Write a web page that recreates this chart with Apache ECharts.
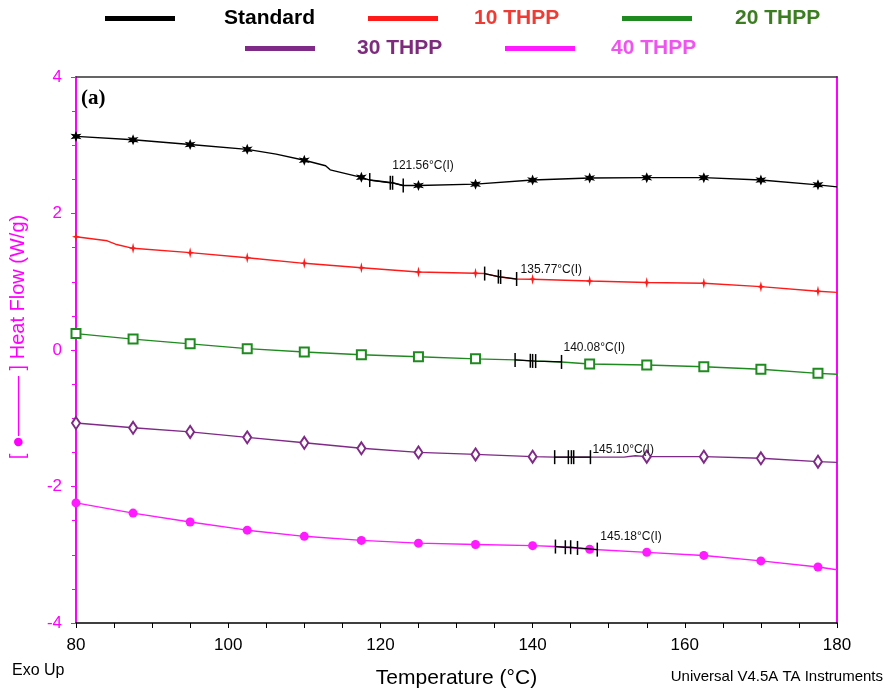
<!DOCTYPE html>
<html>
<head>
<meta charset="utf-8">
<title>Heat Flow</title>
<script src="https://cdn.jsdelivr.net/npm/echarts@6/dist/echarts.min.js"></script>
<style>
  html, body { margin: 0; padding: 0; background: #fff; }
  #heatFlow { width: 893px; height: 694px; }
</style>
</head>
<body>
<div id="heatFlow"></div>
<script>
// curves: [temperature °C, heat flow W/g]
var markerTemps = [80, 87.5, 95, 102.5, 110, 117.5, 125, 132.5, 140, 147.5, 155, 162.5, 170, 177.5];

var standard = [[80, 3.13], [87.5, 3.08], [95, 3.01], [102.5, 2.94], [106.3, 2.87], [110, 2.78], [112.8, 2.70], [113.4, 2.64],
  [117.5, 2.53], [118.6, 2.49], [121.6, 2.45], [123.0, 2.41], [125, 2.41], [132.5, 2.43], [140, 2.49], [147.5, 2.52],
  [155, 2.525], [162.5, 2.525], [170, 2.49], [177.5, 2.42], [180, 2.39]];
var thpp10 = [[80, 1.66], [84.1, 1.60], [85.2, 1.55], [87.5, 1.49], [95, 1.426], [102.5, 1.352], [110, 1.27], [117.5, 1.206],
  [125, 1.143], [132.5, 1.124], [133.7, 1.12], [135.7, 1.07], [137.9, 1.04], [140, 1.036], [147.5, 1.01], [155, 0.99],
  [162.5, 0.977], [170, 0.928], [177.5, 0.86], [180, 0.845]];
var thpp20 = [[80, 0.24], [87.5, 0.16], [95, 0.09], [102.5, 0.02], [110, -0.03], [117.5, -0.07], [125, -0.098], [132.5, -0.13],
  [137.7, -0.145], [140.1, -0.16], [143.8, -0.175], [147.5, -0.205], [155, -0.22], [162.5, -0.245], [170, -0.283],
  [177.5, -0.342], [180, -0.356]];
var thpp30 = [[80, -1.07], [87.5, -1.14], [95, -1.20], [102.5, -1.28], [110, -1.36], [117.5, -1.44], [125, -1.50], [132.5, -1.53],
  [140, -1.563], [142.9, -1.57], [147.6, -1.57], [152, -1.57], [153.5, -1.55], [155, -1.563], [162.5, -1.563], [170, -1.587],
  [177.5, -1.636], [180, -1.646]];
var thpp40 = [[80, -2.24], [87.5, -2.39], [95, -2.52], [102.5, -2.64], [110, -2.73], [117.5, -2.79], [125, -2.83], [132.5, -2.85],
  [140, -2.867], [143, -2.88], [147.5, -2.92], [155, -2.965], [162.5, -3.01], [170, -3.09], [177.5, -3.18], [180, -3.22]];

// glass transition analysis ticks + labels
var tgStandard = [[118.6, 2.49], [121.3, 2.45], [121.6, 2.45], [123.0, 2.41]];
var tg10 = [[133.7, 1.12], [135.5, 1.075], [135.8, 1.07], [137.9, 1.04]];
var tg20 = [[137.7, -0.145], [139.7, -0.158], [140.0, -0.16], [140.4, -0.162], [143.8, -0.175]];
var tg30 = [[142.9, -1.57], [144.7, -1.57], [145.1, -1.57], [145.4, -1.57], [147.6, -1.57]];
var tg40 = [[143.0, -2.88], [144.3, -2.89], [145.0, -2.89], [145.9, -2.9], [148.5, -2.925]];
var tgLabels = ['121.56°C(I)', '135.77°C(I)', '140.08°C(I)', '145.10°C(I)', '145.18°C(I)'];

var seriesNames = ['Standard', '10 THPP', '20 THPP', '30 THPP', '40 THPP'];
var colors = ['#000000', '#ff1a1a', '#1f8a1f', '#7e2a86', '#ff1aff'];
var legendText = ['#000000', '#ee3b33', '#3c7d22', '#7d2b7d', '#ee55ee'];

var starPath = 'path://M0,-10L2.2,-3.8L8.66,-5L4.4,0L8.66,5L2.2,3.8L0,10L-2.2,3.8L-8.66,5L-4.4,0L-8.66,-5L-2.2,-3.8Z';
var plusStar = 'path://M0,-10L1.9,-1.9L7,0L1.9,1.9L0,10L-1.9,1.9L-7,0L-1.9,-1.9Z';
var symbols = [starPath, plusStar, 'emptyRect', 'emptyDiamond', 'circle'];
var symbolSizes = [11, [8, 11], 9, [8, 12], 9];

// where each label sits relative to its last tick (px)
var labelOffsets = [[-11, -20], [4, -9], [2, -14], [2, -7], [3, -13]];

var legendPos = [
  {left: 105, top: 8, pad: 44}, {left: 368, top: 8, pad: 31}, {left: 622, top: 8, pad: 38},
  {left: 245, top: 38, pad: 37}, {left: 505, top: 38, pad: 31}
];

function withMarkers(points) {
  return points.map(function (p) {
    if (markerTemps.indexOf(p[0]) >= 0) return {value: p};
    return {value: p, symbol: 'none'};
  });
}

var curves = [standard, thpp10, thpp20, thpp30, thpp40];
var tgs = [tgStandard, tg10, tg20, tg30, tg40];

var series = [];
curves.forEach(function (c, i) {
  series.push({
    name: seriesNames[i],
    type: 'line',
    data: withMarkers(c),
    symbol: symbols[i],
    symbolSize: symbolSizes[i],
    showAllSymbol: true,
    lineStyle: {color: colors[i], width: 1.4},
    itemStyle: {color: colors[i], borderWidth: 1.5},
    z: 2
  });
});
tgs.forEach(function (t, i) {
  var data = t.map(function (p, k) {
    var item = {value: p};
    if (k === t.length - 1) {
      item.label = {
        show: true,
        formatter: tgLabels[i],
        position: [labelOffsets[i][0] + 0.75, labelOffsets[i][1] + 7],
        align: 'left',
        verticalAlign: 'middle',
        color: '#111',
        fontSize: 12,
        fontFamily: 'Liberation Sans, Arial, sans-serif'
      };
    }
    return item;
  });
  series.push({
    name: 'tg' + i,
    type: 'line',
    data: data,
    symbol: 'rect',
    symbolSize: [1.5, 14],
    lineStyle: {color: '#000', width: 1.3},
    itemStyle: {color: '#000'},
    z: 4
  });
});

var legends = seriesNames.map(function (n, i) {
  return {
    data: [n],
    left: legendPos[i].left,
    top: legendPos[i].top,
    padding: 0,
    icon: 'rect',
    itemWidth: 70,
    itemHeight: 5,
    selectedMode: false,
    textStyle: {
      color: legendText[i],
      fontSize: 21,
      fontWeight: 'bold',
      fontFamily: 'Liberation Sans, Arial, sans-serif',
      padding: [0, 0, 0, legendPos[i].pad]
    }
  };
});

var option = {
  animation: false,
  backgroundColor: '#fff',
  textStyle: {fontFamily: 'Liberation Sans, Arial, sans-serif'},
  legend: legends,
  grid: {left: 72, right: 56, top: 77, bottom: 71},
  xAxis: [{
    type: 'value',
    position: 'bottom',
    min: 80,
    max: 180,
    interval: 20,
    axisLine: {onZero: false, lineStyle: {color: '#000', width: 1.5}},
    axisTick: {length: 5, lineStyle: {color: '#000'}},
    minorTick: {show: true, splitNumber: 4, length: 5, lineStyle: {color: '#000'}},
    axisLabel: {color: '#000', fontSize: 17, margin: 14},
    splitLine: {show: false},
    name: 'Temperature (°C)',
    nameLocation: 'middle',
    nameGap: 45,
    nameTextStyle: {color: '#000', fontSize: 21}
  }, {
    type: 'value',
    position: 'top',
    min: 80,
    max: 180,
    axisLine: {onZero: false, lineStyle: {color: '#333', width: 1.5}},
    axisTick: {show: false},
    axisLabel: {show: false},
    splitLine: {show: false}
  }],
  yAxis: [{
    type: 'value',
    min: -4,
    max: 4,
    interval: 2,
    axisLine: {onZero: false, lineStyle: {color: '#ff00ff', width: 2}},
    axisTick: {length: 5, lineStyle: {color: '#ff00ff'}},
    minorTick: {show: true, splitNumber: 4, length: 4, lineStyle: {color: '#ff00ff'}},
    axisLabel: {color: '#ff00ff', fontSize: 17, margin: 14},
    splitLine: {show: false},
    name: '[ ●——— ] Heat Flow (W/g)',
    nameLocation: 'middle',
    nameRotate: 90,
    nameGap: 48,
    nameTextStyle: {color: '#ff00ff', fontSize: 20, padding: [0, 0, 0, 26]}
  }, {
    type: 'value',
    position: 'right',
    min: -4,
    max: 4,
    axisLine: {show: true, onZero: false, lineStyle: {color: '#ff00ff', width: 2}},
    axisTick: {show: false},
    axisLabel: {show: false},
    splitLine: {show: false}
  }],
  graphic: [
    {type: 'text', left: 81, top: 88, style: {text: '(a)', font: 'bold 21px "Liberation Serif", "Times New Roman", serif', fill: '#000'}},
    {type: 'text', left: 12, top: 663, style: {text: 'Exo Up', font: '16px "Liberation Sans", Arial, sans-serif', fill: '#000'}},
    {type: 'text', right: 10, top: 669, style: {text: 'Universal V4.5A TA Instruments', font: '15px "Liberation Sans", Arial, sans-serif', fill: '#000'}}
  ],
  series: series
};

var chart = echarts.init(document.getElementById('heatFlow'), null, {width: 893, height: 694});
chart.setOption(option);
</script>
</body>
</html>
